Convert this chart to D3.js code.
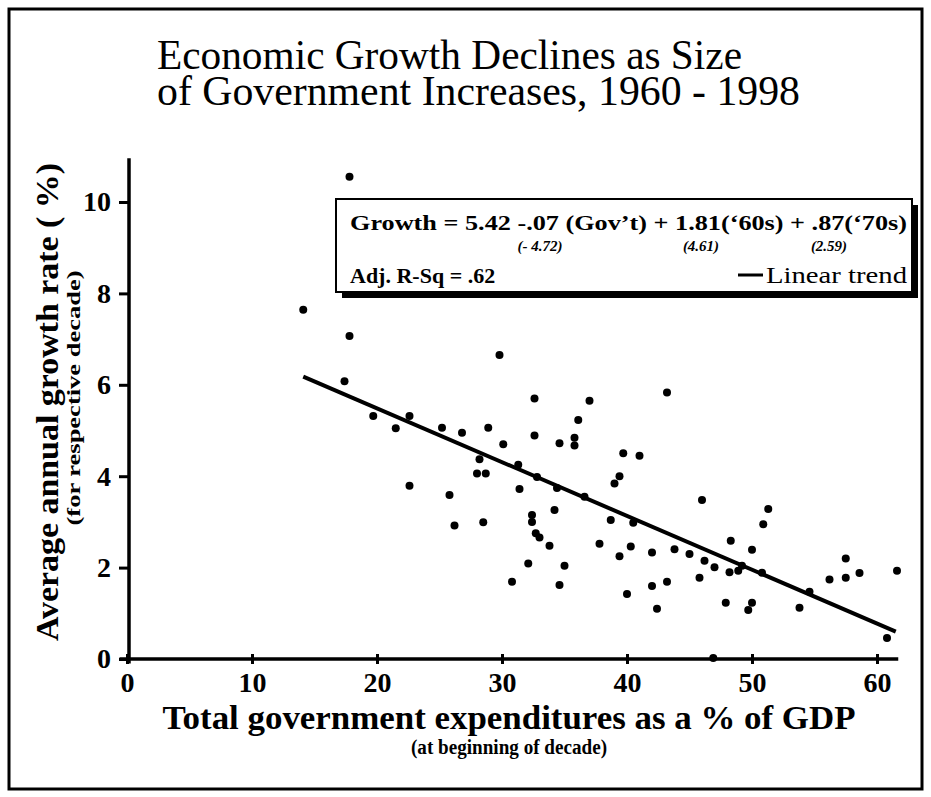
<!DOCTYPE html>
<html>
<head>
<meta charset="utf-8">
<script src="https://cdn.jsdelivr.net/npm/d3@7"></script>
<style>
  body { margin: 0; background: #fff; }
  svg { display: block; }
  text { font-family: "Liberation Serif", "DejaVu Serif", serif; }
</style>
</head>
<body>
<svg width="931" height="797"></svg>
<script>
// government spending (% of GDP) and growth (%) per country-decade
var govSpend = [14.1, 17.8, 17.8, 17.4, 19.7, 21.5, 22.6, 25.2, 26.8, 28.9,
  30.1, 29.8, 32.6, 32.6, 34.6, 35.8, 35.8, 36.1, 28.2, 28.0,
  28.7, 31.3, 32.8, 31.4, 22.6, 25.8, 26.2, 28.5, 34.2, 32.4,
  32.4, 32.7, 33.0, 33.8, 32.1, 35.0, 30.8, 34.6, 37.0, 39.7,
  41.0, 39.4, 39.0, 36.6, 38.7, 40.5, 37.8, 40.3, 39.4, 42.0,
  43.8, 45.0, 46.2, 47.0, 45.8, 42.0, 43.2, 40.0, 42.4, 46.0,
  48.3, 50.0, 51.3, 50.9, 48.2, 48.9, 49.2, 50.8, 47.9, 50.0,
  49.7, 54.6, 53.8, 56.2, 57.5, 57.5, 58.6, 61.6, 60.8, 46.9,
  43.2, 34.4];
var growth = [7.64, 10.55, 7.07, 6.08, 5.32, 5.05, 5.32, 5.06, 4.95, 5.06,
  4.70, 6.65, 5.70, 4.89, 4.72, 4.84, 4.67, 5.23, 4.37, 4.06,
  4.06, 4.25, 3.98, 3.72, 3.79, 3.59, 2.92, 2.99, 3.26, 3.15,
  3.00, 2.75, 2.66, 2.48, 2.09, 2.04, 1.69, 1.62, 5.65, 4.50,
  4.45, 4.00, 3.84, 3.55, 3.04, 2.98, 2.52, 2.46, 2.25, 2.33,
  2.40, 2.30, 2.15, 2.01, 1.78, 1.60, 1.69, 1.42, 1.10, 3.48,
  2.59, 2.39, 3.28, 2.95, 1.90, 1.93, 2.04, 1.89, 1.23, 1.23,
  1.07, 1.47, 1.12, 1.74, 2.20, 1.78, 1.88, 1.93, 0.46, 0.02,
  5.83, 3.74];
var trendX = [14.1, 61.5];
var trendY = [6.18, 0.6];
var xTicks = [0, 10, 20, 30, 40, 50, 60];
var yTicks = [0, 2, 4, 6, 8, 10];

var serif = "Liberation Serif, DejaVu Serif, serif";
var svg = d3.select("svg");

var x = d3.scaleLinear().domain([0, 60]).range([127, 877]);
var y = d3.scaleLinear().domain([0, 10]).range([659, 202]);

// frame
svg.append("rect").attr("x", 9).attr("y", 9).attr("width", 913).attr("height", 780)
  .attr("fill", "none").attr("stroke", "#000").attr("stroke-width", 3);

// title
var title = svg.append("g").attr("font-size", 42).attr("font-family", serif);
title.append("text").attr("x", 157).attr("y", 69)
  .attr("textLength", 585).attr("lengthAdjust", "spacingAndGlyphs")
  .text("Economic Growth Declines as Size");
title.append("text").attr("x", 157).attr("y", 105)
  .attr("textLength", 643).attr("lengthAdjust", "spacingAndGlyphs")
  .text("of Government Increases,  1960 - 1998");

// axes
var xAxis = svg.append("g").attr("transform", "translate(0," + y(0) + ")")
  .call(d3.axisBottom(x).tickValues(xTicks).tickSize(5).tickSizeOuter(0).tickPadding(8));
xAxis.select(".domain").remove();
xAxis.selectAll(".tick line").attr("y1", -5).attr("stroke-width", 3);
xAxis.append("line").attr("x1", x(-0.6)).attr("x2", x(61.7))
  .attr("stroke", "#000").attr("stroke-width", 3.5);

var yAxis = svg.append("g").attr("transform", "translate(" + (x(0) + 2) + ",0)")
  .call(d3.axisLeft(y).tickValues(yTicks).tickSize(10).tickSizeOuter(0).tickPadding(8));
yAxis.select(".domain").remove();
yAxis.selectAll(".tick line").attr("stroke-width", 3);
yAxis.append("line").attr("y1", y(-0.1)).attr("y2", y(10.96))
  .attr("stroke", "#000").attr("stroke-width", 3.5);

svg.selectAll(".tick text")
  .attr("font-family", serif)
  .attr("font-size", 28).attr("font-weight", "bold").attr("fill", "#000");

// axis titles
svg.append("text").attr("x", 509).attr("y", 729)
  .attr("text-anchor", "middle").attr("font-size", 33).attr("font-weight", "bold")
  .attr("textLength", 693).attr("lengthAdjust", "spacingAndGlyphs")
  .text("Total government expenditures as a % of GDP");
svg.append("text").attr("x", 509).attr("y", 754)
  .attr("text-anchor", "middle").attr("font-size", 20).attr("font-weight", "bold")
  .attr("textLength", 196).attr("lengthAdjust", "spacingAndGlyphs")
  .text("(at beginning of decade)");

svg.append("text").attr("transform", "translate(58,402) rotate(-90)")
  .attr("text-anchor", "middle").attr("font-size", 31).attr("font-weight", "bold")
  .attr("textLength", 478).attr("lengthAdjust", "spacingAndGlyphs")
  .text("Average annual growth rate ( %)");
svg.append("text").attr("transform", "translate(80,398) rotate(-90)")
  .attr("text-anchor", "middle").attr("font-size", 19).attr("font-weight", "bold")
  .attr("textLength", 255).attr("lengthAdjust", "spacingAndGlyphs")
  .text("(for respective decade)");

// points
svg.append("g").selectAll("circle")
  .data(govSpend).enter().append("circle")
  .attr("cx", (d) => x(d))
  .attr("cy", (d, i) => y(growth[i]))
  .attr("r", 4)
  .attr("fill", "#000");

// trend line
svg.append("line")
  .attr("x1", x(trendX[0])).attr("y1", y(trendY[0]))
  .attr("x2", x(trendX[1])).attr("y2", y(trendY[1]))
  .attr("stroke", "#000").attr("stroke-width", 4);

// legend box
var lg = svg.append("g").attr("font-family", serif);
lg.append("rect").attr("x", 342).attr("y", 205).attr("width", 576).attr("height", 93).attr("fill", "#000");
lg.append("rect").attr("x", 336).attr("y", 199).attr("width", 576).attr("height", 93)
  .attr("fill", "#fff").attr("stroke", "#000").attr("stroke-width", 2);
lg.append("text").attr("x", 350).attr("y", 230).attr("font-size", 22).attr("font-weight", "bold")
  .attr("textLength", 557).attr("lengthAdjust", "spacingAndGlyphs")
  .text("Growth = 5.42 -.07 (Gov\u2019t) + 1.81(\u201860s) + .87(\u201870s)");
var tstat = [["(- 4.72)", 540], ["(4.61)", 701], ["(2.59)", 829]];
lg.selectAll("text.t").data(tstat).enter().append("text").attr("class", "t")
  .attr("x", (d) => d[1]).attr("y", 251).attr("text-anchor", "middle")
  .attr("font-size", 15).attr("font-weight", "bold").attr("font-style", "italic")
  .text((d) => d[0]);
lg.append("text").attr("x", 350).attr("y", 283).attr("font-size", 22).attr("font-weight", "bold")
  .text("Adj. R-Sq = .62");
lg.append("line").attr("x1", 738).attr("x2", 763).attr("y1", 275).attr("y2", 275)
  .attr("stroke", "#000").attr("stroke-width", 3);
lg.append("text").attr("x", 766).attr("y", 283).attr("font-size", 24)
  .attr("textLength", 141).attr("lengthAdjust", "spacingAndGlyphs")
  .text("Linear trend");
</script>
</body>
</html>
